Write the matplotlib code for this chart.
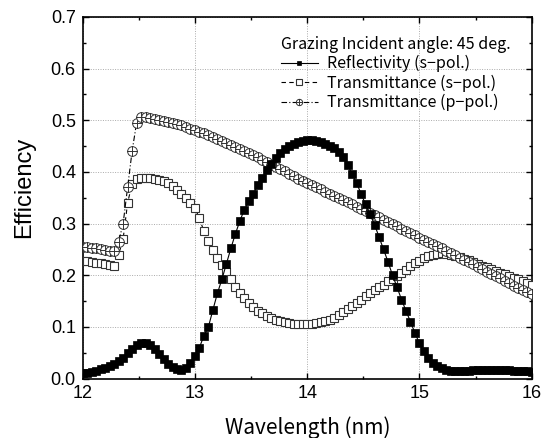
import numpy as np
import matplotlib
matplotlib.use("Agg")
import matplotlib.pyplot as plt
from matplotlib.path import Path
from matplotlib.ticker import MultipleLocator

# wavelength grid (nm)
wavelength = [
    12.00, 12.04, 12.08, 12.12, 12.16, 12.20, 12.24, 12.28, 12.32, 12.36,
    12.40, 12.44, 12.48, 12.52, 12.56, 12.60, 12.64, 12.68, 12.72, 12.76,
    12.80, 12.84, 12.88, 12.92, 12.96, 13.00, 13.04, 13.08, 13.12, 13.16,
    13.20, 13.24, 13.28, 13.32, 13.36, 13.40, 13.44, 13.48, 13.52, 13.56,
    13.60, 13.64, 13.68, 13.72, 13.76, 13.80, 13.84, 13.88, 13.92, 13.96,
    14.00, 14.04, 14.08, 14.12, 14.16, 14.20, 14.24, 14.28, 14.32, 14.36,
    14.40, 14.44, 14.48, 14.52, 14.56, 14.60, 14.64, 14.68, 14.72, 14.76,
    14.80, 14.84, 14.88, 14.92, 14.96, 15.00, 15.04, 15.08, 15.12, 15.16,
    15.20, 15.24, 15.28, 15.32, 15.36, 15.40, 15.44, 15.48, 15.52, 15.56,
    15.60, 15.64, 15.68, 15.72, 15.76, 15.80, 15.84, 15.88, 15.92, 15.96,
    16.00]

refl_s = [
    0.010, 0.011, 0.013, 0.015, 0.018, 0.021, 0.024, 0.028, 0.033, 0.040,
    0.049, 0.058, 0.065, 0.069, 0.069, 0.065, 0.057, 0.047, 0.037, 0.028,
    0.022, 0.018, 0.017, 0.020, 0.030, 0.044, 0.060, 0.083, 0.100, 0.133,
    0.165, 0.192, 0.222, 0.252, 0.280, 0.305, 0.327, 0.343, 0.358, 0.374,
    0.388, 0.403, 0.416, 0.427, 0.436, 0.444, 0.450, 0.455, 0.458, 0.460,
    0.461, 0.461, 0.460, 0.458, 0.455, 0.451, 0.446, 0.438, 0.428, 0.414,
    0.396, 0.378, 0.358, 0.337, 0.318, 0.298, 0.274, 0.250, 0.226, 0.200,
    0.177, 0.153, 0.131, 0.110, 0.088, 0.068, 0.053, 0.040, 0.031, 0.025,
    0.020, 0.017, 0.015, 0.014, 0.014, 0.014, 0.015, 0.016, 0.016, 0.017,
    0.017, 0.017, 0.017, 0.017, 0.016, 0.016, 0.015, 0.015, 0.014, 0.014,
    0.013]

trans_s = [
    0.228, 0.227, 0.226, 0.224, 0.223, 0.221, 0.219, 0.218, 0.240, 0.270,
    0.340, 0.377, 0.386, 0.388, 0.389, 0.388, 0.387, 0.385, 0.382, 0.378,
    0.372, 0.365, 0.357, 0.349, 0.340, 0.330, 0.310, 0.285, 0.267, 0.249,
    0.233, 0.220, 0.206, 0.192, 0.178, 0.165, 0.155, 0.146, 0.138, 0.131,
    0.126, 0.121, 0.117, 0.114, 0.111, 0.109, 0.107, 0.106, 0.105, 0.105,
    0.105, 0.106, 0.107, 0.109, 0.111, 0.114, 0.118, 0.123, 0.128, 0.134,
    0.140, 0.146, 0.152, 0.159, 0.165, 0.171, 0.177, 0.182, 0.188, 0.193,
    0.199, 0.205, 0.211, 0.217, 0.223, 0.228, 0.233, 0.237, 0.240, 0.242,
    0.243, 0.242, 0.240, 0.238, 0.235, 0.232, 0.229, 0.225, 0.222, 0.218,
    0.215, 0.212, 0.209, 0.205, 0.202, 0.199, 0.195, 0.192, 0.188, 0.185,
    0.181]

trans_p = [
    0.255, 0.254, 0.253, 0.252, 0.250, 0.249, 0.247, 0.246, 0.265, 0.300,
    0.370, 0.440, 0.495, 0.506, 0.507, 0.505, 0.503, 0.501, 0.499, 0.497,
    0.495, 0.492, 0.490, 0.487, 0.484, 0.481, 0.478, 0.475, 0.471, 0.467,
    0.464, 0.460, 0.456, 0.452, 0.448, 0.444, 0.440, 0.436, 0.432, 0.428,
    0.423, 0.419, 0.414, 0.410, 0.405, 0.401, 0.396, 0.392, 0.387, 0.383,
    0.379, 0.375, 0.371, 0.366, 0.362, 0.358, 0.354, 0.349, 0.345, 0.341,
    0.337, 0.333, 0.328, 0.324, 0.320, 0.316, 0.312, 0.307, 0.303, 0.299,
    0.295, 0.290, 0.286, 0.282, 0.278, 0.273, 0.269, 0.265, 0.260, 0.256,
    0.252, 0.247, 0.243, 0.239, 0.234, 0.230, 0.225, 0.221, 0.216, 0.212,
    0.207, 0.203, 0.198, 0.194, 0.189, 0.185, 0.180, 0.176, 0.171, 0.167,
    0.163]

labels = ["Reflectivity (s\u2212pol.)", "Transmittance (s\u2212pol.)",
          "Transmittance (p\u2212pol.)"]
legend_title = "Grazing Incident angle: 45 deg."

# circle with a cross inside
circ = Path.unit_circle()
oplus = Path.make_compound_path(
    circ,
    Path([[-1, 0], [1, 0]], [Path.MOVETO, Path.LINETO]),
    Path([[0, -1], [0, 1]], [Path.MOVETO, Path.LINETO]))

jp = ["Noto Sans CJK JP", "DejaVu Sans"]
plt.rcParams["font.family"] = ["Liberation Sans", "DejaVu Sans"]

fig = plt.figure(figsize=(5.43, 4.38), dpi=100)
ax = fig.add_axes([0.1523, 0.1358, 0.8269, 0.8254])

ax.plot(wavelength, trans_s, ls=(0, (4, 3)), color="black", lw=0.8,
        marker="s", ms=6, mfc="white", mec="#333333", mew=0.8,
        label=labels[1], zorder=3)
ax.plot(wavelength, trans_p, ls=(0, (5, 2, 1, 2)), color="black", lw=0.8,
        marker=oplus, ms=7, mfc="white", mec="#333333", mew=0.7,
        label=labels[2], zorder=4)
ax.plot(wavelength, refl_s, ls="-", color="black", lw=0.8,
        marker="s", ms=5.5, mfc="black", mec="black", mew=0.5,
        label=labels[0], zorder=5)

ax.set_xlim(12, 16)
ax.set_ylim(0, 0.7)
ax.xaxis.set_major_locator(MultipleLocator(1))
ax.xaxis.set_minor_locator(MultipleLocator(0.5))
ax.yaxis.set_major_locator(MultipleLocator(0.1))
ax.yaxis.set_minor_locator(MultipleLocator(0.05))
ax.yaxis.set_major_formatter(matplotlib.ticker.FormatStrFormatter("%.1f"))
ax.tick_params(which="both", direction="in", top=True, right=True,
               labelsize=13, width=1.0)
ax.tick_params(which="major", length=4.5, pad=5)
ax.tick_params(which="minor", length=2.5)
for s in ax.spines.values():
    s.set_linewidth(1.2)

ax.grid(True, which="major", ls=(0, (1, 1.5)), color="#aaaaaa", lw=0.7)
ax.set_axisbelow(True)

ax.set_ylabel("Efficiency", fontsize=17)
ax.yaxis.label.set_va("center")
ax.yaxis.set_label_coords(-0.131, 0.528)
ax.set_xlabel("Wavelength (nm)", fontsize=15, family=jp)
ax.xaxis.label.set_va("center")
ax.xaxis.set_label_coords(0.502, -0.137)

h, l = ax.get_legend_handles_labels()
order = [2, 0, 1]
leg = ax.legend([h[i] for i in order], [l[i] for i in order],
                title=legend_title, loc="upper right",
                bbox_to_anchor=(0.974, 0.975), frameon=False,
                prop={"family": jp, "size": 11.5},
                title_fontproperties={"family": jp, "size": 11.5},
                handlelength=2.3, handletextpad=0.6, labelspacing=0.15,
                markerscale=0.65, borderaxespad=0.2, alignment="left")

fig.savefig("out.png", dpi=100)
